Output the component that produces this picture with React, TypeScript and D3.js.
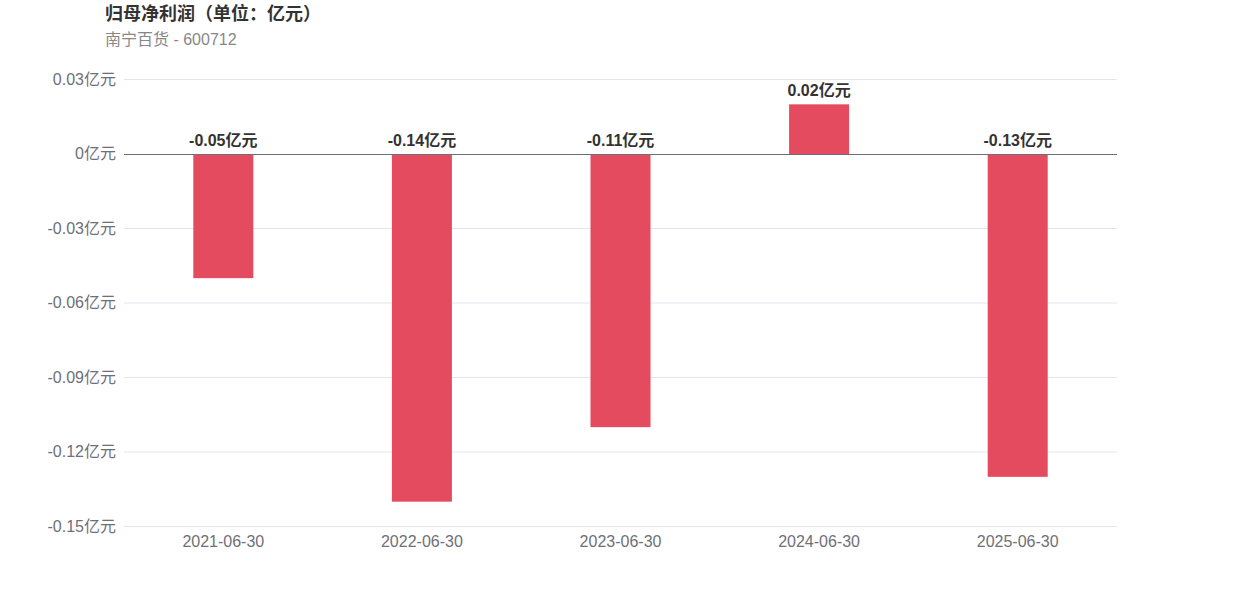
import React from "react";
import * as d3 from "d3";

const categories = ["2021-06-30", "2022-06-30", "2023-06-30", "2024-06-30", "2025-06-30"];
const values = [-0.05, -0.14, -0.11, 0.02, -0.13];
const yTicks = [0.03, 0, -0.03, -0.06, -0.09, -0.12, -0.15];

const W = 1242;
const H = 596;
const left = 124;
const right = 1117;
const top = 79.5;
const bottom = 526.5;

const font = "'Liberation Sans', Arial, 'Noto Sans CJK SC', sans-serif";

function fmt(v: number) {
  if (v === 0) return "0亿元";
  return `${Number(v.toFixed(2))}亿元`;
}

export default function App() {
  const x = d3.scaleBand<string>().domain(categories).range([left, right]).paddingInner(0).paddingOuter(0);
  const y = d3.scaleLinear().domain([-0.15, 0.03]).range([bottom, top]);
  const barW = 60;
  const y0 = y(0);

  return (
    <svg width={W} height={H} style={{ position: "absolute", left: 0, top: 0, fontFamily: font }}>
      <rect x={0} y={0} width={W} height={H} fill="#fff" />
      <text x={105} y={20} fontSize={18} fontWeight="bold" fill="#333">归母净利润（单位：亿元）</text>
      <text x={105} y={45} fontSize={16} fill="#888">南宁百货 - 600712</text>

      {yTicks.map((t) => (
        <g key={t}>
          {t !== 0 && (
            <line x1={left} x2={right} y1={y(t)} y2={y(t)} stroke="#E0E6F1" strokeWidth={1} />
          )}
          <text x={116} y={y(t) - 0.5} dy="0.35em" textAnchor="end" fontSize={16} fill="#6E7079">
            {fmt(t)}
          </text>
        </g>
      ))}

      {categories.map((c, i) => {
        const v = values[i];
        const cx = (x(c) as number) + x.bandwidth() / 2;
        const yv = y(v);
        return (
          <g key={c}>
            <rect
              x={cx - barW / 2}
              y={Math.min(yv, y0)}
              width={barW}
              height={Math.abs(yv - y0)}
              fill="#E54B5E"
            />
            <text
              x={cx}
              y={(v >= 0 ? yv : y0) - 8}
              textAnchor="middle"
              fontSize={16}
              fontWeight="bold"
              fill="#333"
            >
              {fmt(v)}
            </text>
            <text x={cx} y={547} textAnchor="middle" fontSize={16} fill="#6E7079">
              {c}
            </text>
          </g>
        );
      })}

      <line x1={left} x2={right} y1={y0 + 0.5} y2={y0 + 0.5} stroke="#6E7079" strokeWidth={1} />
    </svg>
  );
}
